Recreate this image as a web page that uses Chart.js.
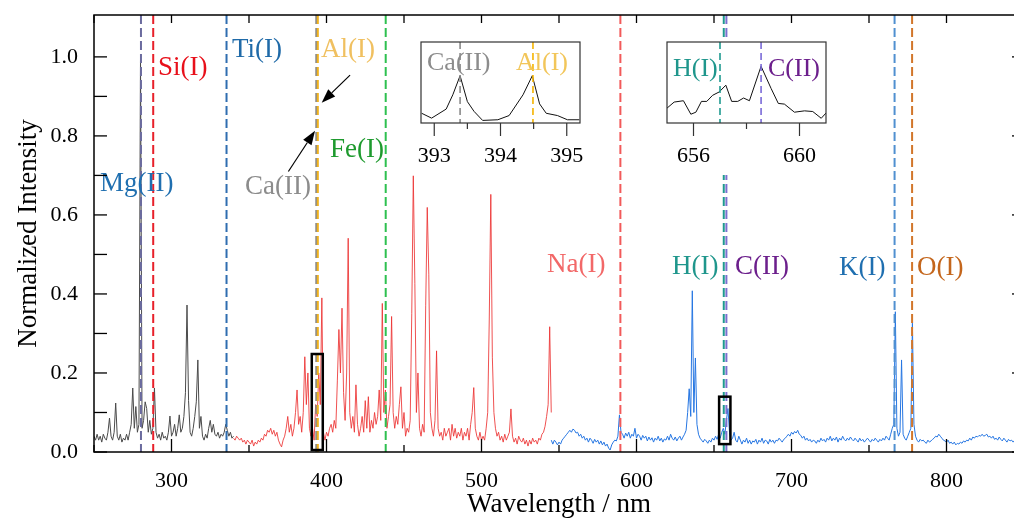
<!DOCTYPE html>
<html>
<head>
<meta charset="utf-8">
<title>LIBS spectrum</title>
<script src="https://cdn.jsdelivr.net/npm/chart.js@4.4.1/dist/chart.umd.min.js"></script>
<style>
  html, body { margin: 0; padding: 0; background: #fff; }
  #wrap { position: relative; width: 1014px; height: 521px; overflow: hidden; }
  #wrap canvas { position: absolute; }
  #main { left: 0; top: 0; }
  #inset1 { left: 404px; top: 38px; background: #fff; }
  #inset2 { left: 650px; top: 38px; background: #fff; }
</style>
</head>
<body>
<div id="wrap">
  <canvas id="main" width="1040" height="521"></canvas>
  <canvas id="inset1" width="192" height="137"></canvas>
  <canvas id="inset2" width="192" height="137"></canvas>
</div>
<script>
const FONT = "'Liberation Serif', 'Times New Roman', serif";

// spectrum, 1 nm steps, three channels
const grayStart = 250;
const grayValues = [
  0.04, 0.03, 0.045, 0.03, 0.04, 0.025, 0.045, 0.035, 0.03, 0.05,      // 250
  0.086, 0.04, 0.03, 0.05, 0.124, 0.04, 0.03, 0.045, 0.025, 0.035,     // 260
  0.03, 0.045, 0.03, 0.05, 0.07, 0.162, 0.06, 0.115, 0.05, 0.07,       // 270
  1.0, 0.06, 0.08, 0.127, 0.11, 0.05, 0.08, 0.045, 0.06, 0.162,        // 280
  0.05, 0.035, 0.045, 0.03, 0.05, 0.035, 0.04, 0.03, 0.05, 0.091,      // 290
  0.04, 0.05, 0.07, 0.04, 0.06, 0.094, 0.05, 0.06, 0.09, 0.15,         // 300
  0.372, 0.13, 0.05, 0.04, 0.06, 0.09, 0.127, 0.233, 0.06, 0.09,       // 310
  0.04, 0.03, 0.045, 0.035, 0.06, 0.08, 0.05, 0.07, 0.045, 0.04,       // 320
  0.05, 0.035, 0.045, 0.04, 0.05, 0.07, 0.055, 0.04, 0.05, 0.035,      // 330
  0.04
];
const redStart = 340;
const redValues = [
  0.035, 0.03, 0.04, 0.035, 0.03, 0.035, 0.025, 0.03, 0.02, 0.03,      // 340
  0.025, 0.02, 0.03, 0.015, 0.025, 0.02, 0.03, 0.025, 0.035, 0.03,     // 350
  0.045, 0.04, 0.055, 0.05, 0.06, 0.045, 0.055, 0.04, 0.05, 0.03,      // 360
  0.02, 0.013, 0.03, 0.04, 0.06, 0.09, 0.05, 0.07, 0.04, 0.06,         // 370
  0.1, 0.157, 0.07, 0.09, 0.05, 0.1, 0.241, 0.12, 0.2, 0.06,           // 380
  0.04, 0.06, 0.03, 0.12, 0.09, 0.2, 0.12, 0.39, 0.05, 0.03,           // 390
  0.05, 0.04, 0.06, 0.07, 0.05, 0.08, 0.06, 0.18, 0.31, 0.2,           // 400
  0.364, 0.15, 0.08, 0.2, 0.541, 0.1, 0.06, 0.09, 0.05, 0.17,          // 410
  0.07, 0.04, 0.06, 0.09, 0.05, 0.13, 0.06, 0.14, 0.05, 0.08,          // 420
  0.06, 0.1, 0.07, 0.09, 0.157, 0.08, 0.376, 0.1, 0.157, 0.06,         // 430
  0.09, 0.12, 0.343, 0.1, 0.06, 0.09, 0.07, 0.12, 0.165, 0.06,         // 440
  0.1, 0.04, 0.06, 0.05, 0.08, 0.35, 0.699, 0.427, 0.1, 0.2,           // 450
  0.06, 0.04, 0.07, 0.05, 0.37, 0.619, 0.45, 0.1, 0.06, 0.04,          // 460
  0.08, 0.256, 0.06, 0.04, 0.05, 0.03, 0.06, 0.04, 0.05, 0.06,         // 470
  0.03, 0.07, 0.04, 0.06, 0.035, 0.05, 0.04, 0.06, 0.03, 0.05,         // 480
  0.04, 0.06, 0.03, 0.07, 0.1, 0.163, 0.06, 0.04, 0.03, 0.05,          // 490
  0.03, 0.04, 0.03, 0.06, 0.1, 0.334, 0.652, 0.24, 0.1, 0.06,          // 500
  0.04, 0.05, 0.03, 0.04, 0.025, 0.045, 0.03, 0.04, 0.05, 0.109,       // 510
  0.04, 0.025, 0.035, 0.02, 0.04, 0.03, 0.025, 0.035, 0.02, 0.03,      // 520
  0.015, 0.03, 0.02, 0.035, 0.025, 0.03, 0.02, 0.035, 0.03, 0.045,     // 530
  0.05, 0.065, 0.09, 0.12, 0.317, 0.1                                  // 540
];
const blueStart = 545;
const blueValues = [
  0.03, 0.02, 0.03, 0.025, 0.018, 0.025, 0.02, 0.03, 0.035, 0.04,      // 545
  0.045, 0.05, 0.055, 0.05, 0.058, 0.055, 0.048, 0.05, 0.04, 0.045,    // 555
  0.035, 0.04, 0.03, 0.035, 0.025, 0.035, 0.03, 0.022, 0.032, 0.025,   // 565
  0.03, 0.02, 0.028, 0.018, 0.025, 0.015, 0.02, 0.01, 0.005, 0.018,    // 575
  0.025, 0.03, 0.028, 0.04, 0.094, 0.05, 0.045, 0.035, 0.048, 0.04,    // 585
  0.05, 0.035, 0.045, 0.04, 0.06, 0.035, 0.045, 0.04, 0.03, 0.042,     // 595
  0.035, 0.04, 0.028, 0.038, 0.03, 0.036, 0.025, 0.035, 0.03, 0.04,    // 605
  0.028, 0.035, 0.025, 0.033, 0.03, 0.04, 0.03, 0.045, 0.035, 0.03,    // 615
  0.038, 0.028, 0.035, 0.04, 0.03, 0.038, 0.045, 0.055, 0.1, 0.16,     // 625
  0.09, 0.408, 0.1, 0.238, 0.07, 0.045, 0.035, 0.03, 0.025, 0.032,     // 635
  0.028, 0.022, 0.03, 0.025, 0.035, 0.03, 0.04, 0.032, 0.045, 0.035,   // 645
  0.05, 0.06, 0.045, 0.08, 0.11, 0.05, 0.03, 0.035, 0.05, 0.03,        // 655
  0.025, 0.04, 0.03, 0.02, 0.03, 0.025, 0.035, 0.022, 0.03, 0.02,      // 665
  0.028, 0.025, 0.032, 0.02, 0.03, 0.025, 0.035, 0.022, 0.03, 0.028,   // 675
  0.02, 0.032, 0.025, 0.03, 0.022, 0.03, 0.028, 0.035, 0.03, 0.025,    // 685
  0.032, 0.035, 0.04, 0.045, 0.04, 0.05, 0.045, 0.052, 0.048, 0.055,   // 695
  0.045, 0.042, 0.035, 0.04, 0.03, 0.035, 0.028, 0.032, 0.025, 0.03,   // 705
  0.028, 0.022, 0.03, 0.025, 0.035, 0.028, 0.032, 0.025, 0.035, 0.03,  // 715
  0.04, 0.028, 0.035, 0.03, 0.038, 0.025, 0.035, 0.03, 0.04, 0.032,    // 725
  0.028, 0.035, 0.03, 0.038, 0.032, 0.028, 0.035, 0.03, 0.025, 0.035,  // 735
  0.028, 0.032, 0.025, 0.03, 0.035, 0.03, 0.025, 0.032, 0.028, 0.035,  // 745
  0.03, 0.025, 0.032, 0.028, 0.035, 0.03, 0.04, 0.035, 0.03, 0.045,    // 755
  0.06, 0.07, 0.355, 0.06, 0.04, 0.05, 0.233, 0.045, 0.035, 0.03,      // 765
  0.04, 0.05, 0.06, 0.326, 0.07, 0.04, 0.03, 0.025, 0.032, 0.028,      // 775
  0.03, 0.025, 0.022, 0.03, 0.025, 0.028, 0.032, 0.035, 0.04, 0.038,   // 785
  0.045, 0.04, 0.035, 0.03, 0.028, 0.025, 0.03, 0.022, 0.025, 0.02,    // 795
  0.025, 0.018, 0.022, 0.02, 0.025, 0.022, 0.028, 0.025, 0.03, 0.028,  // 805
  0.035, 0.03, 0.038, 0.035, 0.04, 0.038, 0.042, 0.04, 0.045, 0.04,    // 815
  0.042, 0.045, 0.038, 0.04, 0.035, 0.04, 0.032, 0.035, 0.03, 0.038,   // 825
  0.032, 0.028, 0.035, 0.03, 0.025, 0.032, 0.028, 0.03, 0.025, 0.03,   // 835
  0.028                                                                // 845
];

const xTicks = [300, 400, 500, 600, 700, 800];
const xMinorTicks = [250, 350, 450, 550, 650, 750, 850];
const yTicks = [0, 0.2, 0.4, 0.6, 0.8, 1.0];
const yMinorTicks = [0.1, 0.3, 0.5, 0.7, 0.9];

// emission lines
const lineNames = ['Mg(II)', 'Si(I)', 'Ti(I)', 'Ca(II)', 'Al(I)', 'Fe(I)', 'Na(I)', 'H(I)', 'C(II)', 'K(I)', 'O(I)'];
const lineWavelengths = [280.3, 288.2, 335.5, 393.4, 394.4, 438.2, 589.6, 656.3, 658.0, 766.5, 777.8];
const lineColors = ['#6b6b9e', '#e8202a', '#2f6db0', '#8a8a8a', '#f0b21e', '#2ec050', '#f25a5a', '#1f9a8f', '#7b70d0', '#5090d0', '#d2762a'];
const labelColors = ['#1f6fb0', '#e8101a', '#1f6aa8', '#8c8c8c', '#f0c060', '#1e9a2e', '#f26868', '#1f968c', '#6c1f8c', '#1f6fb0', '#c4661c'];
// label anchor: left x, middle y (pixels)
const labelSpots = [[100, 184], [158, 68], [232, 50], [245, 187], [321, 50], [330, 150], [547, 265], [672, 267], [735, 267], [839, 268], [917, 268]];

// zoom boxes [xmin, xmax, ymin, ymax] and arrows [x0, y0, x1, y1] in data units
const zoomBoxes = [[390.5, 397.6, 0.005, 0.248], [653.3, 660.6, 0.02, 0.14]];
const arrows = [[415.2, 0.954, 396.9, 0.884], [375.4, 0.71, 392.6, 0.813]];

// insets
const caAlWl = [392.81, 392.96, 393.18, 393.28, 393.39, 393.5, 393.6, 393.73, 393.96, 394.13, 394.34, 394.48, 394.59, 394.69, 394.86, 395.01, 395.19];
const caAlVal = [0.03, 0.015, 0.043, 0.087, 0.146, 0.066, 0.036, 0.008, 0.01, 0.023, 0.087, 0.146, 0.059, 0.03, 0.023, 0.01, 0.01];
const hcWl = [655.0, 655.27, 655.62, 655.9, 656.09, 656.3, 656.5, 656.72, 656.97, 657.22, 657.44, 657.67, 657.89, 658.11, 658.55, 658.93, 659.2, 659.43, 659.81, 660.19, 660.5, 660.82, 661.03];
const hcVal = [0.042, 0.051, 0.053, 0.033, 0.036, 0.052, 0.052, 0.061, 0.066, 0.076, 0.052, 0.052, 0.057, 0.053, 0.104, 0.071, 0.049, 0.048, 0.036, 0.038, 0.037, 0.027, 0.036];

const toPoints = (start, vals) => vals.map((v, i) => ({ x: start + i, y: v }));
const zip = (xs, ys) => xs.map((x, i) => ({ x: x, y: ys[i] }));

function drawArrow(ctx, x0, y0, x1, y1) {
  const ang = Math.atan2(y1 - y0, x1 - x0);
  const len = 14, half = 5;
  const bx = x1 - len * Math.cos(ang), by = y1 - len * Math.sin(ang);
  ctx.beginPath(); ctx.moveTo(x0, y0); ctx.lineTo(bx, by); ctx.stroke();
  ctx.beginPath();
  ctx.moveTo(x1, y1);
  ctx.lineTo(bx + half * Math.sin(ang), by - half * Math.cos(ang));
  ctx.lineTo(bx - half * Math.sin(ang), by + half * Math.cos(ang));
  ctx.closePath(); ctx.fill();
}

const mainDeco = {
  id: 'mainDeco',
  afterDatasetsDraw(chart) {
    const { ctx, chartArea: a, scales: { x, y } } = chart;
    ctx.save();
    ctx.beginPath(); ctx.rect(a.left, a.top, a.right - a.left, a.bottom - a.top); ctx.clip();
    ctx.setLineDash([9, 4]);
    lineWavelengths.forEach((wl, i) => {
      const px = x.getPixelForValue(wl);
      ctx.strokeStyle = lineColors[i];
      ctx.lineWidth = 2;
      ctx.beginPath(); ctx.moveTo(px, a.top); ctx.lineTo(px, a.bottom); ctx.stroke();
    });
    ctx.setLineDash([]);
    ctx.strokeStyle = '#000';
    ctx.lineWidth = 2.5;
    zoomBoxes.forEach(b => {
      const x0 = x.getPixelForValue(b[0]), x1 = x.getPixelForValue(b[1]);
      const y0 = y.getPixelForValue(b[3]), y1 = y.getPixelForValue(b[2]);
      ctx.strokeRect(x0, y0, x1 - x0, y1 - y0);
    });
    ctx.restore();

    ctx.save();
    ctx.font = '27px ' + FONT;
    ctx.textBaseline = 'middle';
    ctx.textAlign = 'left';
    lineNames.forEach((name, i) => {
      ctx.fillStyle = labelColors[i];
      ctx.fillText(name, labelSpots[i][0], labelSpots[i][1]);
    });
    ctx.strokeStyle = '#000'; ctx.fillStyle = '#000'; ctx.lineWidth = 1.2;
    arrows.forEach(ar => {
      drawArrow(ctx, x.getPixelForValue(ar[0]), y.getPixelForValue(ar[1]), x.getPixelForValue(ar[2]), y.getPixelForValue(ar[3]));
    });
    ctx.restore();
  },
  afterDraw(chart) {
    const { ctx, chartArea: a, scales: { x, y } } = chart;
    ctx.save();
    ctx.strokeStyle = '#000';
    ctx.lineWidth = 1.3;
    const tick = (x0, y0, x1, y1) => { ctx.beginPath(); ctx.moveTo(x0, y0); ctx.lineTo(x1, y1); ctx.stroke(); };
    xTicks.forEach(v => {
      const px = x.getPixelForValue(v);
      tick(px, a.bottom, px, a.bottom - 13);
      tick(px, a.top, px, a.top + 8);
    });
    xMinorTicks.forEach(v => {
      const px = x.getPixelForValue(v);
      tick(px, a.bottom, px, a.bottom - 7);
      tick(px, a.top, px, a.top + 8);
    });
    yTicks.concat(yMinorTicks).forEach(v => {
      const py = y.getPixelForValue(v);
      tick(a.left, py, a.left + 13, py);
    });
    yTicks.forEach(v => {
      const py = y.getPixelForValue(v);
      tick(a.right, py, a.right - 12, py);
    });
    ctx.lineWidth = 1.5;
    ctx.strokeRect(a.left, a.top, a.right - a.left, a.bottom - a.top);
    ctx.restore();
  }
};

new Chart(document.getElementById('main'), {
  type: 'line',
  data: {
    datasets: [
      { data: toPoints(grayStart, grayValues), borderColor: '#4a4a4a', borderWidth: 1, pointRadius: 0 },
      { data: toPoints(redStart, redValues), borderColor: 'rgba(236, 50, 50, 0.85)', borderWidth: 1, pointRadius: 0 },
      { data: toPoints(blueStart, blueValues), borderColor: 'rgb(38, 118, 226)', borderWidth: 1, pointRadius: 0 }
    ]
  },
  options: {
    responsive: false,
    animation: false,
    layout: { padding: { top: 15, right: 16, left: 0, bottom: 0 } },
    plugins: { legend: { display: false }, tooltip: { enabled: false } },
    scales: {
      x: {
        type: 'linear', min: 250, max: 850,
        afterFit: s => { s.height = 69; s.paddingLeft = 0; s.paddingRight = 0; },
        afterBuildTicks: s => { s.ticks = xTicks.map(v => ({ value: v })); },
        grid: { display: false, drawTicks: false },
        border: { display: false },
        ticks: { padding: 16, color: '#000', font: { family: FONT, size: 22 }, maxRotation: 0, autoSkip: false },
        title: { display: true, text: 'Wavelength / nm', color: '#000', font: { family: FONT, size: 27 }, padding: 0 }
      },
      y: {
        type: 'linear', min: 0, max: 1.106,
        afterFit: s => { s.width = 94; s.paddingTop = 0; s.paddingBottom = 0; },
        afterBuildTicks: s => { s.ticks = yTicks.map(v => ({ value: v })); },
        grid: { display: false, drawTicks: false },
        border: { display: false },
        ticks: { padding: 16, color: '#000', font: { family: FONT, size: 22 }, callback: v => v.toFixed(1) },
        title: { display: true, text: 'Normalized Intensity', color: '#000', font: { family: FONT, size: 27 }, padding: { top: 13, bottom: 0 } }
      }
    }
  },
  plugins: [mainDeco]
});

function makeInset(id, wl, vals, xr, yr, majors, minors, marks, texts) {
  const deco = {
    id: 'insetDeco',
    afterDatasetsDraw(chart) {
      const { ctx, chartArea: a, scales: { x } } = chart;
      ctx.save();
      ctx.setLineDash([7, 4]);
      ctx.lineWidth = 1.6;
      marks.forEach(m => {
        const px = x.getPixelForValue(m[0]);
        ctx.strokeStyle = m[1];
        ctx.beginPath(); ctx.moveTo(px, a.top); ctx.lineTo(px, a.bottom); ctx.stroke();
      });
      ctx.setLineDash([]);
      ctx.font = '26px ' + FONT;
      ctx.textBaseline = 'middle';
      texts.forEach(t => { ctx.fillStyle = t[1]; ctx.fillText(t[0], t[2], t[3]); });
      ctx.strokeStyle = '#333';
      ctx.lineWidth = 1.2;
      ctx.strokeRect(a.left, a.top, a.right - a.left, a.bottom - a.top);
      const tick = (v, len) => {
        const px = x.getPixelForValue(v);
        ctx.beginPath(); ctx.moveTo(px, a.bottom); ctx.lineTo(px, a.bottom + len); ctx.stroke();
      };
      majors.forEach(v => tick(v, 13));
      minors.forEach(v => tick(v, 6));
      ctx.restore();
    }
  };
  return new Chart(document.getElementById(id), {
    type: 'line',
    data: { datasets: [{ data: zip(wl, vals), borderColor: '#111', borderWidth: 1, pointRadius: 0 }] },
    options: {
      responsive: false,
      animation: false,
      layout: { padding: { top: 4, right: 16, left: 17, bottom: 0 } },
      plugins: { legend: { display: false }, tooltip: { enabled: false } },
      scales: {
        x: {
          type: 'linear', min: xr[0], max: xr[1],
          afterFit: s => { s.height = 52; s.paddingLeft = 0; s.paddingRight = 0; },
          afterBuildTicks: s => { s.ticks = majors.map(v => ({ value: v })); },
          grid: { display: false, drawTicks: false },
          border: { display: false },
          ticks: { padding: 20, color: '#000', font: { family: FONT, size: 22 }, maxRotation: 0, autoSkip: false, callback: v => String(v) }
        },
        y: { display: false, min: yr[0], max: yr[1] }
      }
    },
    plugins: [deco]
  });
}

makeInset('inset1', caAlWl, caAlVal, [392.8, 395.2], [0, 0.25], [393, 394, 395], [393.5, 394.5],
  [[393.39, '#8a8a8a'], [394.49, '#f5b400']],
  [['Ca(II)', '#8c8c8c', 23, 25], ['Al(I)', '#f2c65a', 112, 25]]);
makeInset('inset2', hcWl, hcVal, [655, 661], [0.02, 0.14], [656, 660], [658],
  [[657.0, '#1f9a90'], [658.55, '#7a6ad8']],
  [['H(I)', '#1f968c', 23, 31], ['C(II)', '#6c1f8c', 118, 31]]);
</script>
</body>
</html>
